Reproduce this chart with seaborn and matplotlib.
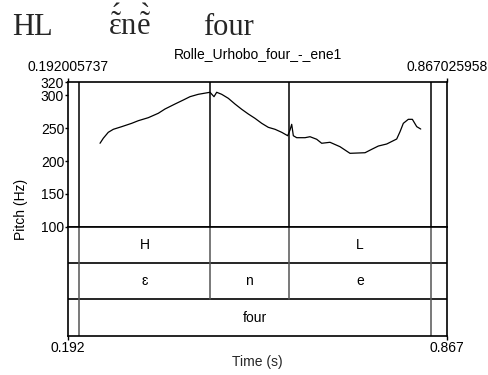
import matplotlib
matplotlib.use("Agg")
import matplotlib.pyplot as plt
import pandas as pd
import seaborn as sns

sns.set_theme(style="white")
plt.rcParams["font.family"] = ["Liberation Sans", "DejaVu Sans"]
plt.rcParams["mathtext.fontset"] = "custom"
plt.rcParams["mathtext.rm"] = "Liberation Serif"
plt.rcParams["mathtext.it"] = "Liberation Serif:italic"

# Selection window (s)
t_start = 0.192005737
t_end = 0.867025958

# Pitch contour (time in s, F0 in Hz)
pitch_time = [0.2485, 0.2543, 0.2632, 0.2722, 0.2871, 0.3049, 0.3167, 0.3345,
              0.3523, 0.3642, 0.3820, 0.3968, 0.4088, 0.4235, 0.4444, 0.4515,
              0.4563, 0.4652, 0.4770, 0.4889, 0.5008, 0.5126, 0.5245, 0.5365,
              0.5482, 0.5602, 0.5721, 0.5828, 0.5869, 0.5899, 0.5928, 0.5988,
              0.6136, 0.6225, 0.6344, 0.6433, 0.6581, 0.6759, 0.6937, 0.7205,
              0.7324, 0.7442, 0.7591, 0.7769, 0.7828, 0.7887, 0.7976, 0.8048,
              0.8126, 0.8197]
pitch_hz = [227.1, 234.7, 243.8, 248.4, 252.4, 257.5, 261.5, 266.1,
            272.8, 279.3, 286.9, 293.0, 298.1, 301.7, 304.8, 298.1,
            304.8, 301.7, 295.6, 286.9, 278.9, 271.7, 265.1, 257.5,
            251.4, 248.4, 243.8, 238.6, 247.3, 256.0, 238.6, 235.6,
            235.6, 237.1, 233.2, 227.1, 228.6, 221.9, 211.8, 212.7,
            217.9, 222.9, 226.0, 233.6, 244.7, 257.5, 263.6, 263.6,
            252.4, 248.8]

y_ticks = [100, 150, 200, 250, 300, 320]

# Annotation tiers: boundaries (s) and interval labels
tone_bounds = [0.2116, 0.4444, 0.5845, 0.8380]
tone_labels = ["H", "", "L"]
seg_bounds = [0.2116, 0.4444, 0.5845, 0.8380]
seg_labels = ["ɛ", "n", "e"]
word_bounds = [0.2116, 0.8380]
word_labels = ["four"]

W, H = 488, 375
fig = plt.figure(figsize=(W / 100, H / 100), dpi=100)
fig.patch.set_facecolor("white")

left, width = 68.3 / W, 379 / W
ax = fig.add_axes([left, (H - 226.7) / H, width, 144.4 / H])
axt = fig.add_axes([left, (H - 335.7) / H, width, 109 / H])

df = pd.DataFrame({"time": pitch_time, "f0": pitch_hz})
sns.lineplot(data=df, x="time", y="f0", ax=ax, color="black", lw=0.9,
             sort=False, estimator=None)

for a in (ax, axt):
    a.set_facecolor("white")
    a.set_xlim(t_start, t_end)
    for s in a.spines.values():
        s.set_color("black")
        s.set_linewidth(1.2)

# Pitch panel
ax.set_ylim(100, 320)
ax.set_yticks(y_ticks)
ax.set_yticklabels([str(v) for v in y_ticks], fontsize=10)
ax.set_xticks([t_start, t_end])
ax.set_xticklabels([f"{t_start:.9f}", f"{t_end:.9f}"], fontsize=10)
ax.tick_params(axis="x", top=True, bottom=False, labeltop=True,
               labelbottom=False, direction="out", length=3, width=1,
               pad=3, colors="black")
ax.tick_params(axis="y", left=True, direction="out", length=2.5, width=1,
               pad=0.5, colors="black")
ax.set_xlabel("")
ax.set_ylabel("")
for b in tone_bounds:
    ax.axvline(b, color="black", lw=1.1)

# Tier panel
axt.set_ylim(0, 3)
axt.set_yticks([])
axt.set_xticks([t_start, t_end])
axt.set_xticklabels(["0.192", "0.867"], fontsize=10)
axt.tick_params(axis="x", bottom=True, direction="out", length=3, width=1,
                pad=1, colors="black")
axt.set_xlabel("Time (s)", fontsize=10, labelpad=0)
axt.set_ylabel("")
for yv in (1, 2):
    axt.axhline(yv, color="black", lw=1.2)

tiers = [(2, tone_bounds, tone_labels), (1, seg_bounds, seg_labels),
         (0, word_bounds, word_labels)]
for y0, bounds, labels in tiers:
    for b in bounds:
        axt.plot([b, b], [y0, y0 + 1], color="#555555", lw=1.1)
    for a_, b_, lab in zip(bounds[:-1], bounds[1:], labels):
        axt.text((a_ + b_) / 2, y0 + 0.5, lab, ha="center", va="center",
                 fontsize=10, color="black")

fig.text(20.5 / W, 1 - 209 / H, "Pitch (Hz)", rotation=90, ha="center",
         va="center", fontsize=10, color="black")
fig.text((68.3 + 447.3) / 2 / W, 1 - 58 / H, "Rolle_Urhobo_four_-_ene1",
         ha="center", va="baseline", fontsize=10, color="black")

# Heading: tone pattern, Urhobo word (nasal vowels with tone marks), gloss
serif = "Liberation Serif"
base_y = 1 - 35 / H
fig.text(12 / W, base_y, "HL", fontsize=22, family=serif, va="baseline")
fig.text(108 / W, base_y, r"$\mathrm{\acute{\tilde{ɛ}}n\grave{\tilde{e}}}$",
         fontsize=22, va="baseline")
fig.text(203 / W, base_y, "four", fontsize=22, family=serif, va="baseline")

fig.savefig("out.png", dpi=100, facecolor="white")
